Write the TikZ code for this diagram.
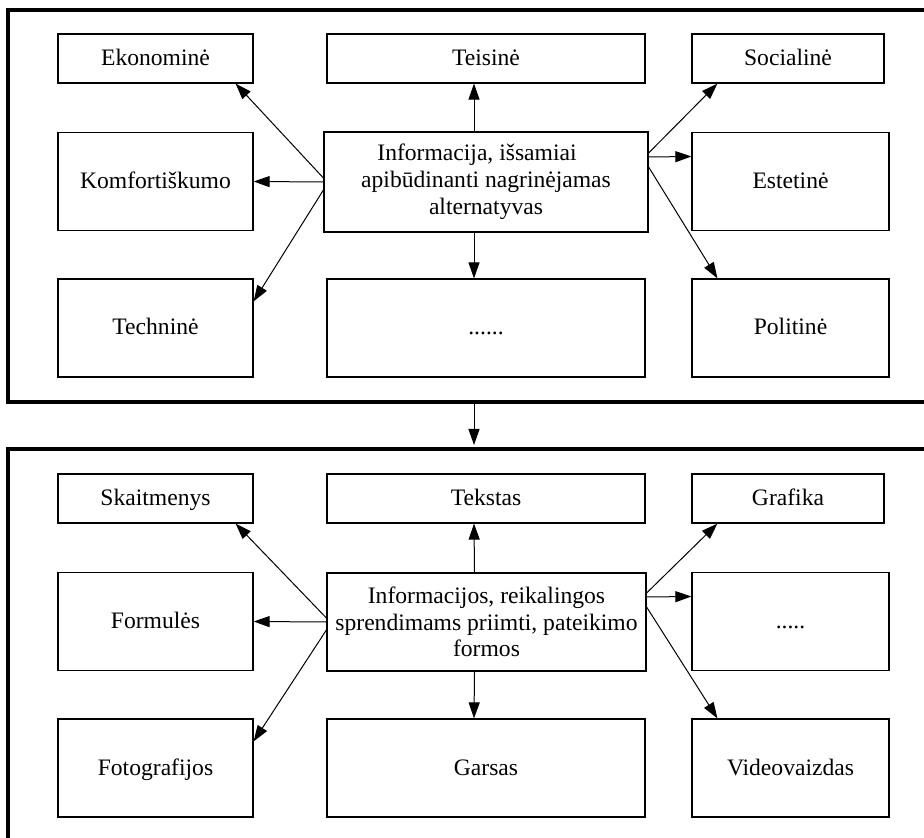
\documentclass[tikz,border=0pt]{standalone}
\usepackage{fontspec}
\setmainfont{Liberation Serif}
\usetikzlibrary{arrows.meta}

\begin{document}
\begin{tikzpicture}[
    x=0.5pt, y=-0.5pt,
    frame/.style={draw, line width=2pt, shape=rectangle, minimum width=471pt},
    box/.style={draw, line width=0.6pt, shape=rectangle, inner sep=2pt, align=center,
                font=\fontsize{11.8}{13.4}\selectfont},
    one/.style={text height=0.8em, text depth=0.1em},
    low/.style={one, minimum height=24.5pt},
    high/.style={one, minimum height=49pt},
    link/.style={line width=0.5pt, -{Triangle[length=8pt,width=5.5pt]}}
    ]

    \useasboundingbox (0,0) rectangle (924,838);
    \clip (0,0) rectangle (924,838);

    % frames
    \node[frame, minimum height=196pt] (top) at (479,206) {};
    \node[frame, minimum height=215.5pt] (bot) at (479,664.5) {};
    \draw[link, shorten >=1pt] ([xshift=-2.5pt]top.south) -- ([xshift=-2.5pt]bot.north);

    \begin{scope}
    \node[box, low, minimum width=97.5pt] (eko) at (155.5,58.5) {Ekonominė};
    \node[box, low, minimum width=159pt] (tei) at (486,58.5) {Teisinė};
    \node[box, low, minimum width=96pt] (soc) at (788,58.5) {Socialinė};
    \node[box, high, minimum width=97.5pt] (kom) at (155.5,181.5) {Komfortiškumo};
    \node[box, minimum width=162pt, minimum height=50pt] (alt) at (486,182)
      {Informacija, išsamiai\hspace*{9pt}\\apibūdinanti nagrinėjamas\\alternatyvas};
    \node[box, high, minimum width=98.5pt] (est) at (790.5,181.5) {Estetinė};
    \node[box, high, minimum width=97.5pt] (tec) at (155.5,328) {Techninė};
    \node[box, high, minimum width=159pt] (kit) at (486,328) {......};
    \node[box, high, minimum width=98.5pt] (pol) at (790.5,328) {Politinė};

    \draw[link] ([xshift=-6pt]alt.north) -- ([xshift=-6pt]tei.south);
    \draw[link] ([xshift=-6pt]alt.south) -- ([xshift=-6pt]kit.north);
    \draw[link] ([yshift=2pt]alt.west) -- ([xshift=-9pt]eko.south east);
    \draw[link] (alt.west) -- (kom.east);
    \draw[link] ([yshift=-4pt]alt.west) -- ([yshift=-11.5pt]tec.north east);
    \draw[link] ([yshift=14.5pt]alt.east) -- ([xshift=13pt]soc.south west);
    \draw[link] ([yshift=12.5pt]alt.east) -- ([yshift=12.5pt]est.west);
    \draw[link] ([yshift=7.5pt]alt.east) -- ([xshift=13pt]pol.north west);
    \end{scope}

    \begin{scope}[yshift=-220pt]
    \node[box, low, minimum width=97.5pt] (ska) at (155.5,58.5) {Skaitmenys};
    \node[box, low, minimum width=159pt] (teks) at (486,58.5) {Tekstas};
    \node[box, low, minimum width=96pt] (gra) at (788,58.5) {Grafika};
    \node[box, high, minimum width=97.5pt] (for) at (155.5,181.5) {Formulės};
    \node[box, minimum width=159.5pt, minimum height=49pt] (inf) at (486.5,182)
      {Informacijos, reikalingos\\sprendimams priimti, pateikimo\\formos};
    \node[box, high, minimum width=98.5pt] (kt) at (790.5,181.5) {.....};
    \node[box, high, minimum width=97.5pt] (fot) at (155.5,328) {Fotografijos};
    \node[box, high, minimum width=159pt] (gar) at (486,328) {Garsas};
    \node[box, high, minimum width=98.5pt] (vid) at (790.5,328) {Videovaizdas};

    \draw[link] ([xshift=-6pt]inf.north) -- ([xshift=-6pt]teks.south);
    \draw[link] ([xshift=-6pt]inf.south) -- ([xshift=-6pt]gar.north);
    \draw[link] ([yshift=2pt]inf.west) -- ([xshift=-9pt]ska.south east);
    \draw[link] (inf.west) -- (for.east);
    \draw[link] ([yshift=-4pt]inf.west) -- ([yshift=-11.5pt]fot.north east);
    \draw[link] ([yshift=14.5pt]inf.east) -- ([xshift=13pt]gra.south west);
    \draw[link] ([yshift=12.5pt]inf.east) -- ([yshift=12.5pt]kt.west);
    \draw[link] ([yshift=7.5pt]inf.east) -- ([xshift=13pt]vid.north west);
    \end{scope}

\end{tikzpicture}
\end{document}
